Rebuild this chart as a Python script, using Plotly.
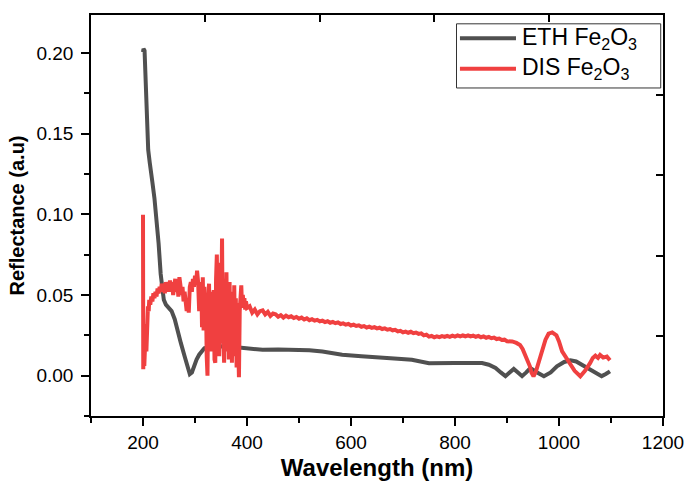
import plotly.graph_objects as go

# ETH Fe2O3 reflectance spectrum
eth_wavelength = [200, 201, 203, 205, 207, 210, 213, 216, 218, 222, 226, 230, 234, 237,
                  240, 244, 250, 255, 261, 267, 273, 280, 285, 290, 294, 298, 303, 308,
                  312, 318, 328, 340, 366, 400, 430, 460, 494, 520, 545, 565, 583, 620,
                  654, 690, 717, 735, 750, 800, 852, 865, 878, 888, 897, 905, 913, 921,
                  929, 937, 945, 958, 971, 984, 996, 1010, 1022, 1033, 1044, 1063, 1082,
                  1090, 1098]
eth_reflectance = [0.2005, 0.2025, 0.2015, 0.180, 0.152, 0.140, 0.132, 0.1265, 0.120, 0.110,
                   0.097, 0.082, 0.063, 0.052, 0.047, 0.044, 0.042, 0.040, 0.035, 0.0285,
                   0.020, 0.012, 0.006, 0.001, 0.002, 0.006, 0.010, 0.013, 0.015, 0.017,
                   0.018, 0.0182, 0.018, 0.017, 0.016, 0.0162, 0.0163, 0.0158, 0.015, 0.0138,
                   0.013, 0.012, 0.011, 0.0105, 0.0098, 0.0085, 0.0077, 0.0078, 0.0078, 0.0068,
                   0.0048, 0.002, -0.0003, 0.002, 0.0042, 0.002, -0.0003, 0.002, 0.0047, 0.002,
                   -0.0003, 0.002, 0.0058, 0.0085, 0.0095, 0.0088, 0.0068, 0.003, -0.0003,
                   0.001, 0.0027]

# DIS Fe2O3 reflectance spectrum
dis_wavelength = [200, 200.5, 201.5, 202.5, 203.5, 204.5, 205.5, 206.5, 207.5, 208.5, 209.5,
                  211, 212, 214, 216, 218, 220, 222, 224, 226, 228, 230, 232, 234, 236, 238,
                  240, 242, 244, 246, 248, 250, 252, 254, 256, 258, 260, 262, 264, 266, 268,
                  270, 272, 274, 276, 278, 280, 282, 284, 286, 288, 290, 292, 294, 296, 298,
                  300, 302, 304, 306, 308, 310, 312, 313.5, 315, 316.5, 318, 319.5, 321,
                  322.5, 324, 325.5, 327, 328.5, 330, 331.5, 333, 334.5, 336, 337.5, 339,
                  340.5, 342, 343.5, 345, 346.5, 348, 349.5, 351, 352, 353, 354.5, 356, 357.5,
                  359, 360.5, 362, 363.5, 365, 366.5, 368, 369.5, 371, 372.5, 374, 375.5, 377,
                  378.5, 380, 381.5, 383, 384.5, 386, 387.5, 389, 390.5, 392, 393.5, 395,
                  396.5, 398, 400, 405, 410, 415, 420, 425, 430, 435, 440, 445, 450, 455, 460,
                  465, 470, 475, 480, 485, 490, 495, 500, 505, 510, 515, 520, 525, 530, 535,
                  540, 545, 550, 555, 560, 565, 570, 575, 580, 585, 590, 595, 600, 605, 610,
                  615, 620, 625, 630, 635, 640, 645, 650, 655, 660, 665, 670, 675, 680, 685,
                  690, 695, 700, 705, 710, 715, 720, 725, 730, 735, 740, 745, 750, 755, 760,
                  765, 770, 775, 780, 785, 790, 795, 800, 805, 810, 815, 820, 825, 830, 835,
                  840, 845, 850, 855, 860, 865, 870, 875, 880, 885, 890, 895, 900,
                  910, 918, 925, 930, 935, 940, 944, 947, 951, 956, 961, 967, 974, 980, 987,
                  995, 1000, 1006, 1014, 1022, 1030, 1041, 1050, 1060, 1065, 1070, 1075, 1079,
                  1085, 1092, 1098]
dis_reflectance = [0.0997, 0.004, 0.020, 0.006, 0.028, 0.010, 0.032, 0.015, 0.038, 0.022, 0.043,
                   0.040, 0.047, 0.044, 0.049, 0.046, 0.051, 0.048, 0.052, 0.049, 0.054, 0.051,
                   0.055, 0.052, 0.057, 0.053, 0.056, 0.051, 0.058, 0.054, 0.057, 0.052, 0.059,
                   0.054, 0.058, 0.050, 0.055, 0.060, 0.052, 0.057, 0.049, 0.061, 0.056, 0.050,
                   0.055, 0.046, 0.052, 0.043, 0.040, 0.048, 0.039, 0.055, 0.058, 0.052, 0.060,
                   0.055, 0.062, 0.057, 0.065, 0.058, 0.040, 0.055, 0.058, 0.030, 0.061, 0.028,
                   0.055, 0.035, 0.050, 0.012, 0.000, 0.048, 0.057, 0.020, 0.052, 0.015, 0.045,
                   0.025, 0.053, 0.010, 0.008, 0.060, 0.075, 0.030, 0.070, 0.012, 0.065, 0.020,
                   0.080, 0.085, 0.040, 0.010, 0.008, 0.060, 0.025, 0.064, 0.015, 0.055, 0.010,
                   0.058, 0.020, 0.052, 0.008, 0.050, 0.018, 0.056, 0.012, 0.048, 0.005, 0.045,
                   0.020, -0.001, 0.040, 0.052, 0.056, 0.042, 0.050, 0.043, 0.048, 0.041, 0.046,
                   0.042, 0.043, 0.039, 0.041, 0.038, 0.040, 0.0405, 0.038, 0.0395, 0.037,
                   0.0385, 0.038, 0.0365, 0.0375, 0.036, 0.0372, 0.0362, 0.0368, 0.0357, 0.0364,
                   0.0353, 0.0360, 0.0348, 0.0355, 0.0344, 0.0350, 0.0341, 0.0346, 0.0336, 0.0341,
                   0.0332, 0.0337, 0.0328, 0.0333, 0.0325, 0.0330, 0.0320, 0.0324, 0.0316, 0.0321,
                   0.0311, 0.0316, 0.0308, 0.0312, 0.0303, 0.0307, 0.0298, 0.0304, 0.0296, 0.0301,
                   0.0293, 0.0297, 0.0289, 0.0293, 0.0285, 0.0289, 0.0281, 0.0284, 0.0274, 0.0278,
                   0.0268, 0.0273, 0.0266, 0.0272, 0.0263, 0.0267, 0.0259, 0.0262, 0.0250, 0.0254,
                   0.0242, 0.0246, 0.0238, 0.0244, 0.0239, 0.0245, 0.0240, 0.0247, 0.0241, 0.0248,
                   0.0242, 0.0249, 0.0243, 0.0249, 0.0244, 0.0250, 0.0243, 0.0248, 0.0241, 0.0246,
                   0.0238, 0.0243, 0.0235, 0.0240, 0.0232, 0.0236, 0.0227, 0.0230, 0.0221, 0.0223,
                   0.0213, 0.0212, 0.0203,
                   0.0190, 0.0165, 0.013, 0.009, 0.0058, 0.002, -0.0004, 0.003, 0.008, 0.016,
                   0.0223, 0.026, 0.0268, 0.025, 0.0212, 0.015, 0.011, 0.0079, 0.003, -0.0004,
                   0.003, 0.0079, 0.011, 0.0124, 0.011, 0.0128, 0.0112, 0.0118, 0.0095, 0.0079,
                   0.0047]

x_ticks = [200, 400, 600, 800, 1000, 1200]
y_ticks = [0.00, 0.05, 0.10, 0.15, 0.20]

series_names = ["ETH Fe<sub>2</sub>O<sub>3</sub>", "DIS Fe<sub>2</sub>O<sub>3</sub>"]
series_colors = ["#505050", "#f04040"]

FONT = "Arial, Liberation Sans, sans-serif"

fig = go.Figure()
fig.add_trace(go.Scatter(
    x=eth_wavelength, y=eth_reflectance, mode="lines", name=series_names[0],
    line=dict(color=series_colors[0], width=4), showlegend=False,
))
fig.add_trace(go.Scatter(
    x=dis_wavelength, y=dis_reflectance, mode="lines", name=series_names[1],
    line=dict(color=series_colors[1], width=4), showlegend=False,
))
# empty trace so the top/right frame axes get drawn
fig.add_trace(go.Scatter(x=[], y=[], xaxis="x2", yaxis="y2", showlegend=False,
                         hoverinfo="skip"))

axis_common = dict(showgrid=False, zeroline=False, showline=True,
                   linecolor="black", linewidth=1.5)

# legend box drawn in paper coordinates
legend_box = dict(x0=0.639, x1=0.996, y0=0.818, y1=0.978)
legend_rows = [0.942, 0.866]
fig.add_shape(type="rect", xref="paper", yref="paper", **legend_box,
              line=dict(color="#333333", width=1), fillcolor="white", layer="above")
for name, color, yrow in zip(series_names, series_colors, legend_rows):
    fig.add_shape(type="line", xref="paper", yref="paper",
                  x0=0.645, x1=0.743, y0=yrow, y1=yrow, layer="above",
                  line=dict(color=color, width=4))
    fig.add_annotation(xref="paper", yref="paper", x=0.750, y=yrow,
                       xanchor="left", yanchor="middle", showarrow=False,
                       text=name, font=dict(family=FONT, size=23, color="black"))

fig.update_layout(
    width=686, height=481,
    margin=dict(l=91, r=23, t=15, b=65, autoexpand=False),
    paper_bgcolor="white", plot_bgcolor="white",
    font=dict(family=FONT, color="black"),
    showlegend=False,
    xaxis=dict(
        **axis_common, range=[100, 1200], tickvals=x_ticks,
        ticks="outside", ticklen=8, tickwidth=1.5, tickcolor="black",
        tickfont=dict(family=FONT, size=19),
        minor=dict(dtick=100, tick0=100, ticks="outside", ticklen=5,
                   tickwidth=1.5, tickcolor="black"),
        title=dict(text="<b>Wavelength (nm)</b>", standoff=8,
                   font=dict(family=FONT, size=24)),
    ),
    yaxis=dict(
        **axis_common, range=[-0.025, 0.2235], tickvals=y_ticks,
        tickformat=".2f", ticklabelstandoff=4,
        ticks="outside", ticklen=8, tickwidth=1.5, tickcolor="black",
        tickfont=dict(family=FONT, size=19),
        minor=dict(dtick=0.025, tick0=0.025, ticks="outside", ticklen=5,
                   tickwidth=1.5, tickcolor="black"),
        title=dict(text="<b>Reflectance (a.u)</b>", standoff=6,
                   font=dict(family=FONT, size=20)),
    ),
    # frame axes on top and right with inward ticks
    xaxis2=dict(
        **axis_common, overlaying="x", side="top", anchor="y2",
        range=[0, 5], dtick=1, ticks="inside", ticklen=7, tickwidth=1.5,
        tickcolor="black", showticklabels=False,
    ),
    yaxis2=dict(
        **axis_common, overlaying="y", side="right", anchor="x2",
        range=[0, 5], dtick=1, ticks="inside", ticklen=7, tickwidth=1.5,
        tickcolor="black", showticklabels=False,
    ),
)

fig.write_html("out.html")
